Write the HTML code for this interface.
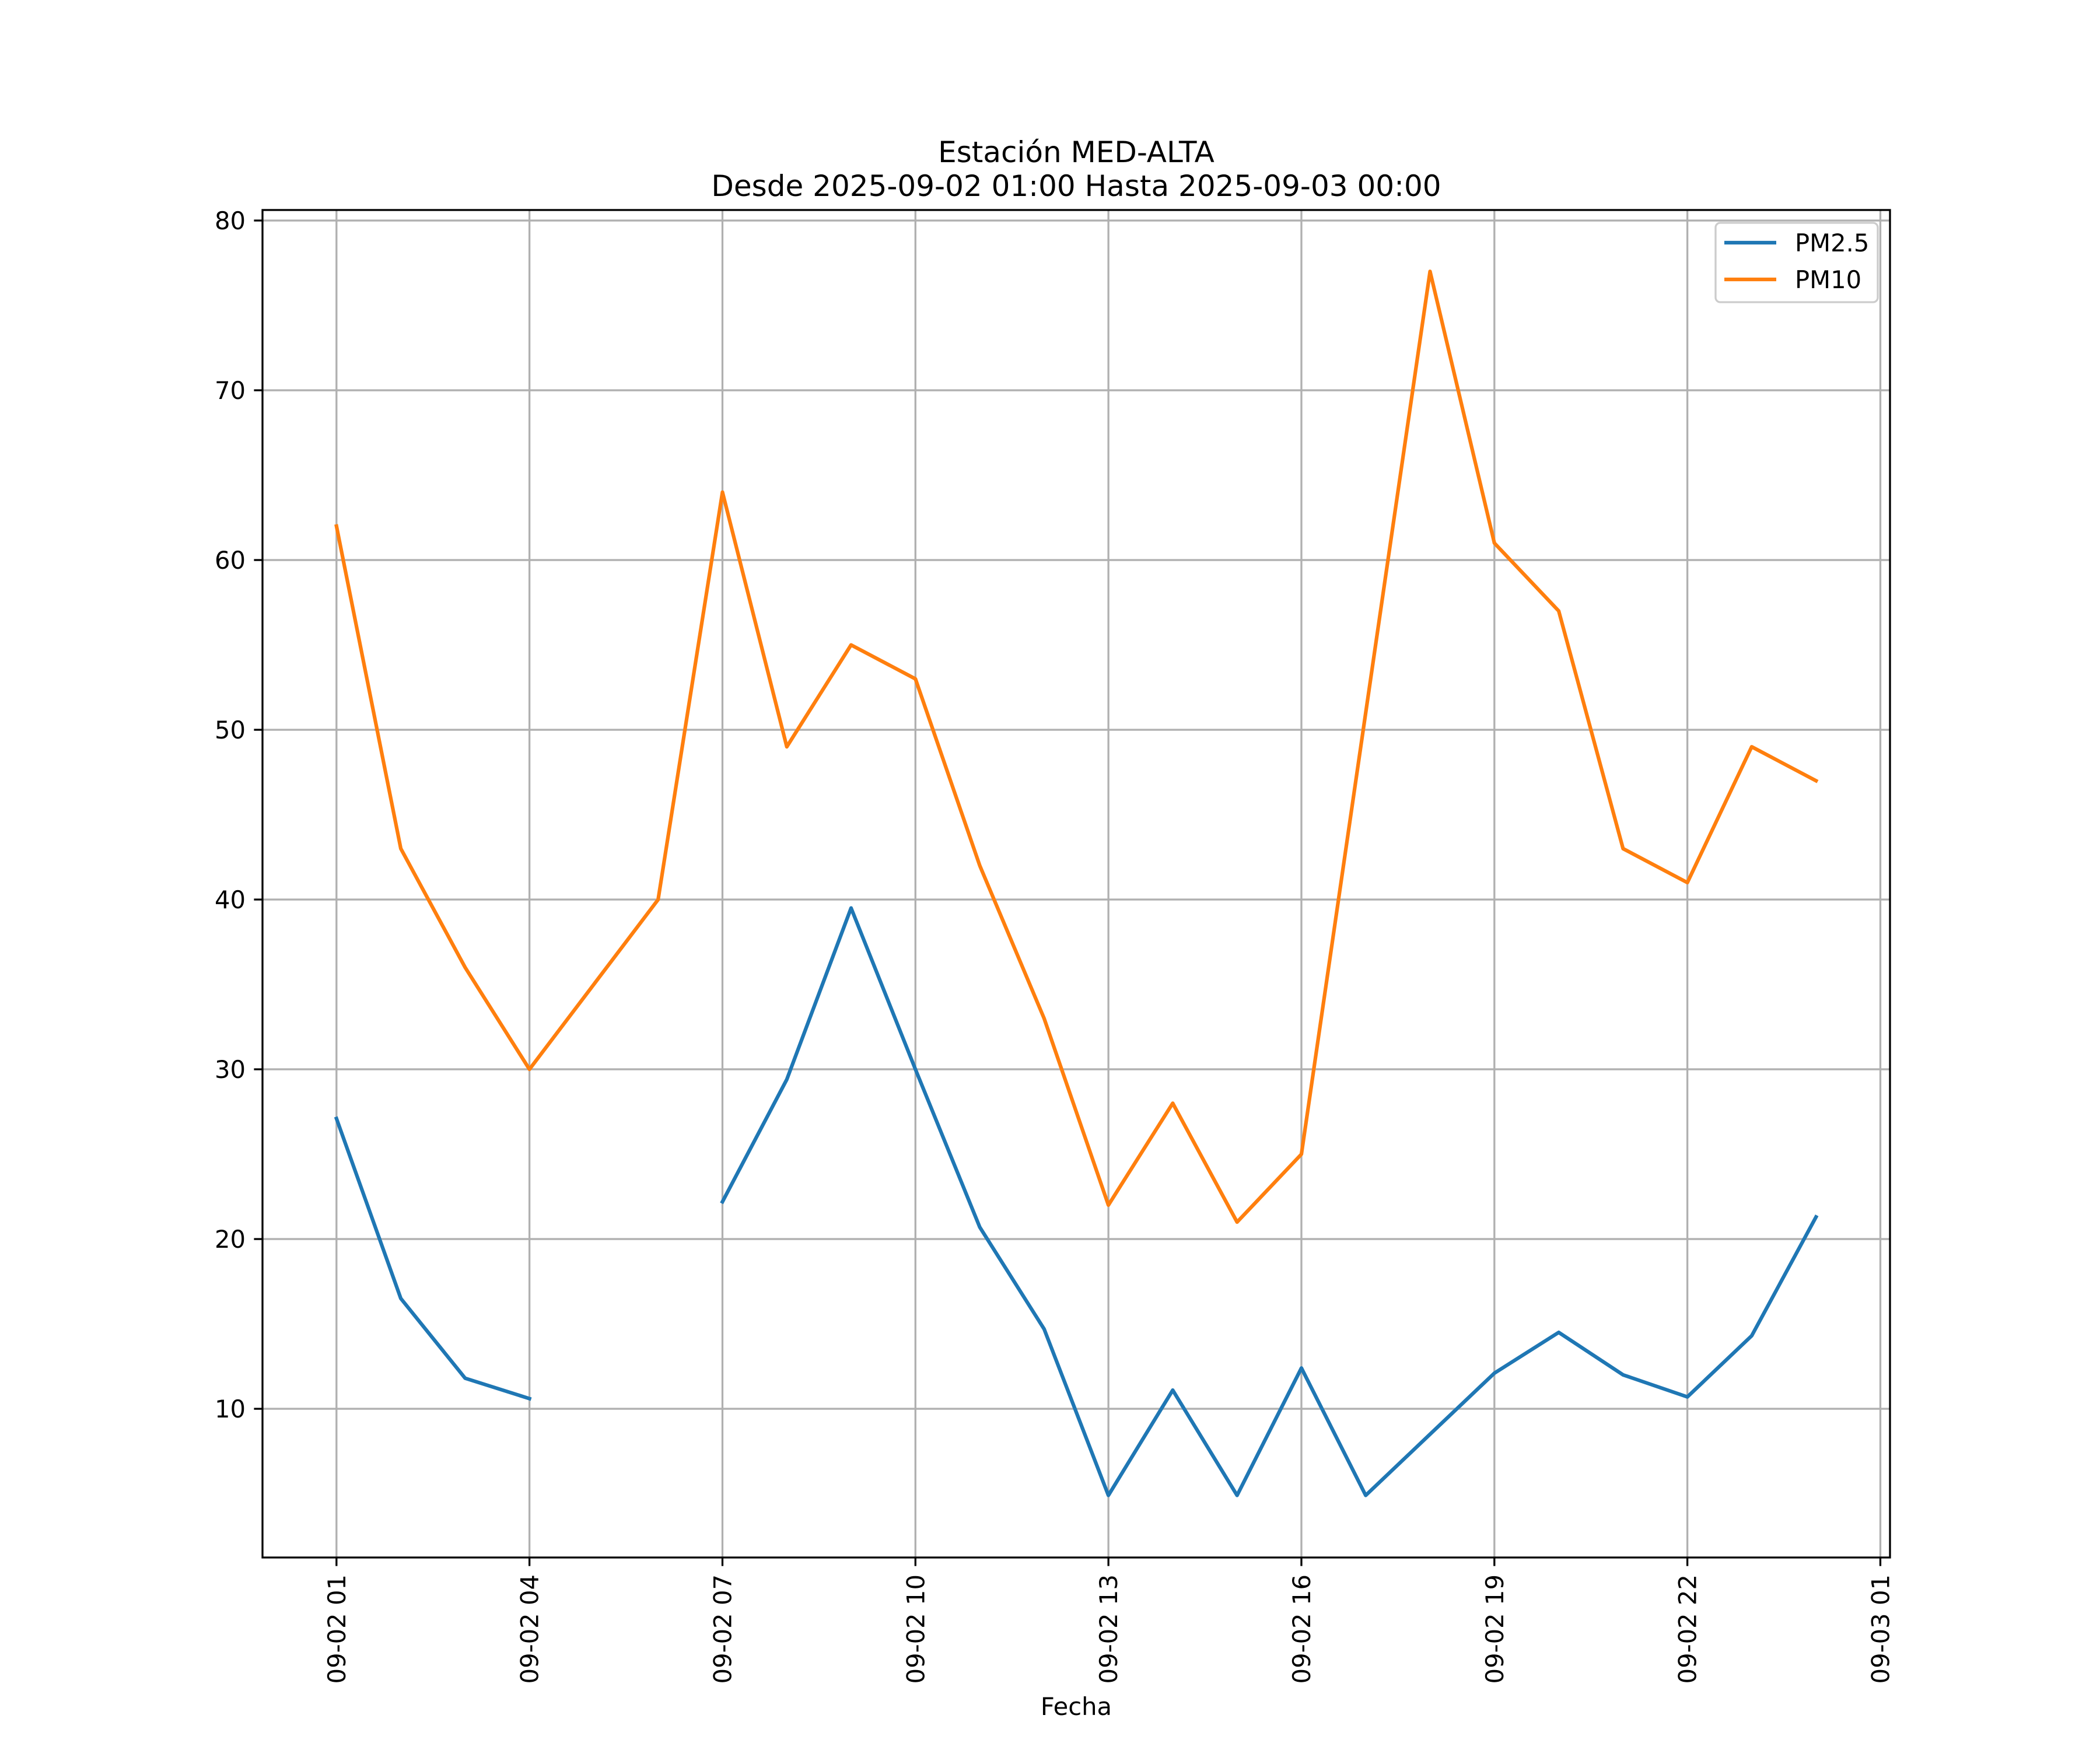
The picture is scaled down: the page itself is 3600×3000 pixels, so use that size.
<!DOCTYPE html>
<html><head><meta charset="utf-8"><style>
html,body{margin:0;padding:0;background:#fff;}
svg{display:block;font-family:"DejaVu Sans","Liberation Sans",sans-serif;}
</style></head><body>
<svg id="chart" width="3600" height="3000" viewBox="0 0 3600 3000" xmlns="http://www.w3.org/2000/svg">
<rect width="3600" height="3000" fill="#fff"/>
<text x="1845" y="278" font-size="50" text-anchor="middle">Estación MED-ALTA</text>
<text x="1845" y="336" font-size="50" text-anchor="middle">Desde 2025-09-02 01:00 Hasta 2025-09-03 00:00</text>
<g id="grid"></g>
<g id="series"></g>
<g id="axes"></g>
<text x="1845" y="2940" font-size="41.7" text-anchor="middle">Fecha</text>
<g>
<rect x="2941" y="382" width="278" height="136" rx="8" fill="#fff" fill-opacity="0.8" stroke="#cccccc" stroke-width="3.3"/>
<line x1="2956" y1="416" x2="3045" y2="416" stroke="#1f77b4" stroke-width="6.25"/>
<text x="3077" y="431" font-size="41.7">PM2.5</text>
<line x1="2956" y1="479" x2="3045" y2="479" stroke="#ff7f0e" stroke-width="6.25"/>
<text x="3077" y="494" font-size="41.7">PM10</text>
</g>
</svg>
<script>
const hours = [1,2,3,4,5,6,7,8,9,10,11,12,13,14,15,16,17,18,19,20,21,22,23,24];
const pm25 = [27.1,16.5,11.8,10.6,null,null,22.2,29.4,39.5,30.0,20.7,14.7,4.9,11.1,4.9,12.4,4.9,8.5,12.1,14.5,12.0,10.7,14.3,21.3];
const pm10 = [62,43,36,30,35,40,64,49,55,53,42,33,22,28,21,25,51,77,61,57,43,41,49,47];
const yTicks = [10,20,30,40,50,60,70,80];
const xTickHours = [1,4,7,10,13,16,19,22,25];
const xTickLabels = ["09-02 01","09-02 04","09-02 07","09-02 10","09-02 13","09-02 16","09-02 19","09-02 22","09-03 01"];

const L=450,R=3240,T=360,B=2670;
const xMin=-0.15,xMax=25.15,yMin=1.24,yMax=80.62;
const xs=h=>L+(h-xMin)/(xMax-xMin)*(R-L);
const ys=v=>B-(v-yMin)/(yMax-yMin)*(B-T);
const NS="http://www.w3.org/2000/svg";
function mk(tag,attrs,parent){const e=document.createElementNS(NS,tag);for(const k in attrs)e.setAttribute(k,attrs[k]);parent.appendChild(e);return e;}
const grid=document.getElementById('grid'),axes=document.getElementById('axes'),series=document.getElementById('series');

yTicks.forEach((v,i)=>{
  const y=ys(v);
  const g=mk('line',{x1:L,x2:R,y1:y,y2:y,stroke:'#b0b0b0','stroke-width':3.3},grid);
  
  
  const t=mk('line',{x1:L-14.6,x2:L,y1:y,y2:y,stroke:'#000','stroke-width':3.3},axes);
  
  
  const lb=mk('text',{x:L-29,y:y+15,'font-size':41.7,'text-anchor':'end'},axes);
  lb.textContent=String(v);
  
  
});
xTickHours.forEach((h,i)=>{
  const x=xs(h);
  const g=mk('line',{x1:x,x2:x,y1:T,y2:B,stroke:'#b0b0b0','stroke-width':3.3},grid);
  
  
  const t=mk('line',{x1:x,x2:x,y1:B,y2:B+14.6,stroke:'#000','stroke-width':3.3},axes);
  
  
  const lb=mk('text',{x:0,y:0,'font-size':41.7,'text-anchor':'end',transform:`translate(${x+15},${B+29}) rotate(-90)`},axes);
  lb.textContent=xTickLabels[i];
  
  
});
const frame=mk('rect',{x:L,y:T,width:R-L,height:B-T,fill:'none',stroke:'#000','stroke-width':3.3},axes);



function drawSeries(vals,color,name){
  let segs=[],cur=[];
  vals.forEach((v,i)=>{if(v===null){if(cur.length)segs.push(cur);cur=[];}else cur.push(xs(hours[i]).toFixed(1)+','+ys(v).toFixed(1));});
  if(cur.length)segs.push(cur);
  segs.forEach(s=>{
    const p=mk('polyline',{points:s.join(' '),fill:'none',stroke:color,'stroke-width':6.25,'stroke-linejoin':'round','stroke-linecap':'square'},series);
    
    
  });
}
drawSeries(pm25,'#1f77b4','pm25-line');
drawSeries(pm10,'#ff7f0e','pm10-line');
</script>
</body></html>
